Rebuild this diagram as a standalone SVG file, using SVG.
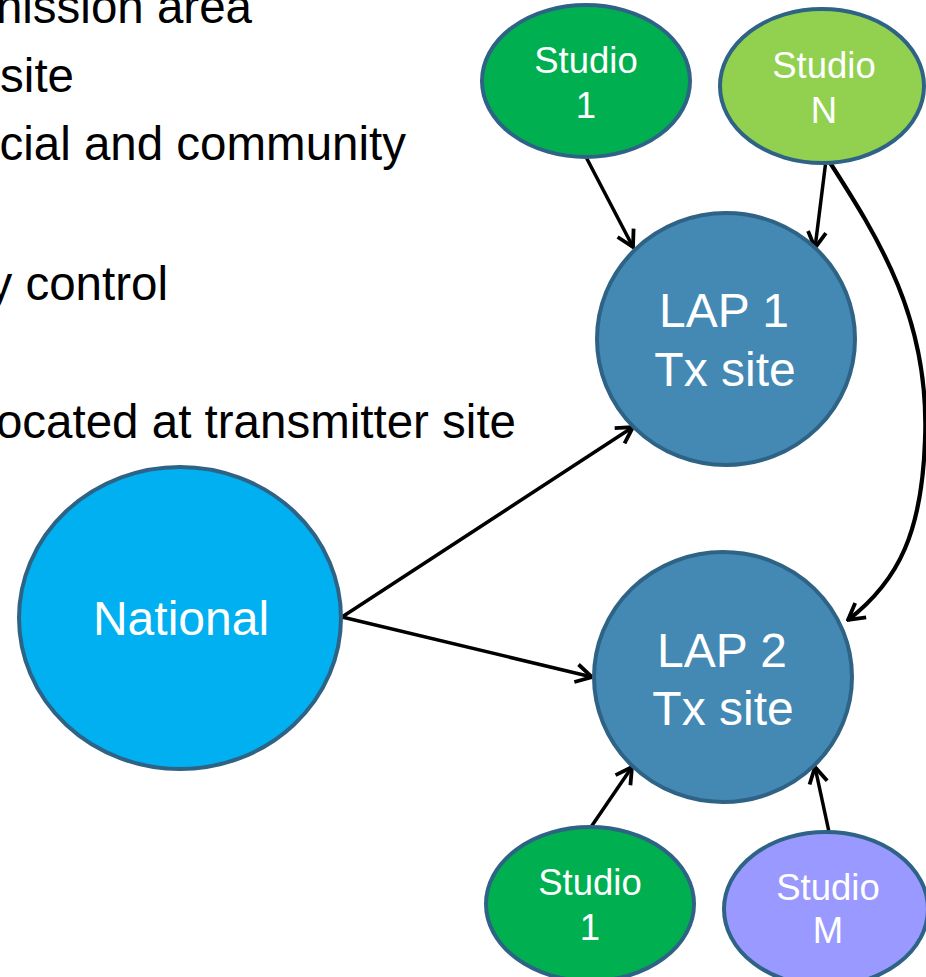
<svg xmlns="http://www.w3.org/2000/svg" width="926" height="977" viewBox="0 0 926 977">
<defs>
<style>
.bullet{font-family:"Liberation Sans",Arial,sans-serif;font-size:47.5px;fill:#000;text-anchor:end}
.node{stroke:#2E6386;stroke-width:4}
.lbl{font-family:"Liberation Sans",Arial,sans-serif;fill:#fff;text-anchor:middle}
.s{font-size:36.5px}
.b{font-size:48px}
.conn{fill:none;stroke:#000;stroke-width:3.5}
</style>
<marker id="arr" viewBox="0 0 22 22" refX="20" refY="11" markerWidth="22" markerHeight="22" markerUnits="userSpaceOnUse" orient="auto">
<path d="M4,2 L20,11 L4,20" fill="none" stroke="#000" stroke-width="3.8"/>
</marker>
</defs>
<rect width="926" height="977" fill="#fff"/>
<g id="bullets">
<text class="bullet" x="252" y="23">nission area</text>
<text class="bullet" x="74" y="92">site</text>
<text class="bullet" x="406" y="160">cial and community</text>
<text class="bullet" x="168" y="300">y control</text>
<text class="bullet" x="516" y="438">ocated at transmitter site</text>
</g>
<g id="connectors">
<line class="conn" x1="586" y1="157" x2="633" y2="247" marker-end="url(#arr)"/>
<line class="conn" x1="826" y1="160" x2="815" y2="248" marker-end="url(#arr)"/>
<path class="conn" style="stroke-width:4.2" d="M827,158 C880,240 930,320 925,440 C922,530 900,580 848,620" marker-end="url(#arr)"/>
<line class="conn" x1="342" y1="617" x2="633" y2="427" marker-end="url(#arr)"/>
<line class="conn" x1="342" y1="617" x2="592" y2="677" marker-end="url(#arr)"/>
<line class="conn" x1="591" y1="827" x2="632" y2="767" marker-end="url(#arr)"/>
<line class="conn" x1="829" y1="832" x2="815" y2="767" marker-end="url(#arr)"/>
</g>
<g id="studio1-top">
<ellipse class="node" cx="586" cy="81" rx="104" ry="76" fill="#00B050"/>
<text class="lbl s" x="586" y="73">Studio</text>
<text class="lbl s" x="586" y="118">1</text>
</g>
<g id="studioN">
<ellipse class="node" cx="822" cy="86" rx="102" ry="77" fill="#92D050"/>
<text class="lbl s" x="824" y="78">Studio</text>
<text class="lbl s" x="824" y="123">N</text>
</g>
<g id="lap1">
<ellipse class="node" cx="726" cy="339" rx="129" ry="126" fill="#4389B3"/>
<text class="lbl b" x="724" y="327">LAP 1</text>
<text class="lbl b" x="725" y="386">Tx site</text>
</g>
<g id="national">
<ellipse class="node" cx="180" cy="618" rx="161" ry="151" fill="#00B0F0"/>
<text class="lbl b" x="181" y="635">National</text>
</g>
<g id="lap2">
<ellipse class="node" cx="723" cy="677" rx="129" ry="125" fill="#4389B3"/>
<text class="lbl b" x="722" y="667">LAP 2</text>
<text class="lbl b" x="723" y="725">Tx site</text>
</g>
<g id="studio1-bottom">
<ellipse class="node" cx="590" cy="904" rx="104" ry="77" fill="#00B050"/>
<text class="lbl s" x="590" y="895">Studio</text>
<text class="lbl s" x="590" y="940">1</text>
</g>
<g id="studioM">
<ellipse class="node" cx="826" cy="909" rx="102" ry="77" fill="#9999FF"/>
<text class="lbl s" x="828" y="900">Studio</text>
<text class="lbl s" x="828" y="943">M</text>
</g>
</svg>
